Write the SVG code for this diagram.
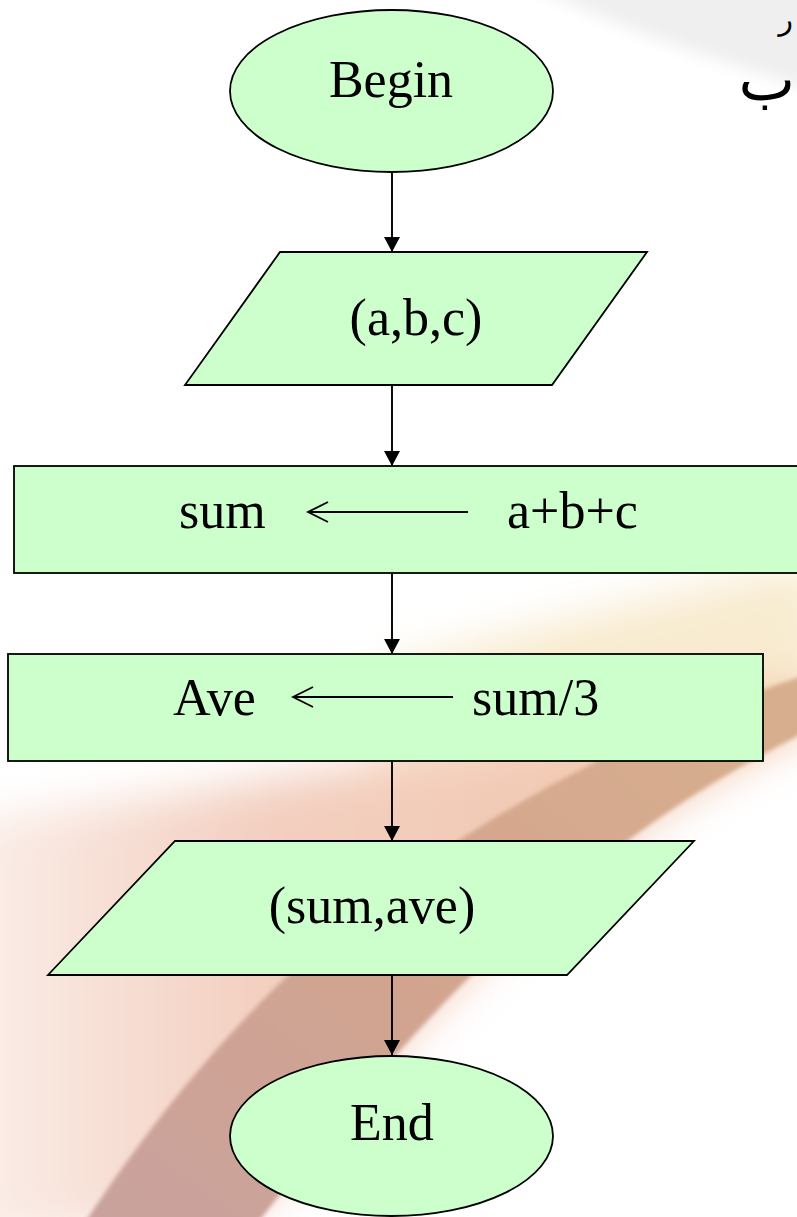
<svg xmlns="http://www.w3.org/2000/svg" width="797" height="1217" viewBox="0 0 797 1217">
<style>
.node{fill:#ccffcc;stroke:#000;stroke-width:1.8}
.lbl{font-family:"Liberation Serif","Times New Roman",serif;font-size:52px;fill:#000}
.conn{stroke:#000;stroke-width:1.9;fill:none}
.ar{font-family:"DejaVu Sans",sans-serif;fill:#000}
</style>
<defs>
<marker id="tri" viewBox="0 0 16 16" refX="15" refY="8" markerWidth="16" markerHeight="16" markerUnits="userSpaceOnUse" orient="auto">
<path d="M0,0 L15,8 L0,16 Z" fill="#000"/>
</marker>
<marker id="chev" viewBox="-2 -2 24 24" refX="20" refY="10" markerWidth="24" markerHeight="24" markerUnits="userSpaceOnUse" orient="auto">
<path d="M0,0 L20,10 L0,20" fill="none" stroke="#000" stroke-width="1.9"/>
</marker>
<filter id="b25" x="-30%" y="-30%" width="160%" height="160%"><feGaussianBlur stdDeviation="22"/></filter>
<filter id="b8" x="-30%" y="-30%" width="160%" height="160%"><feGaussianBlur stdDeviation="8"/></filter>
<filter id="b2" x="-10%" y="-10%" width="120%" height="120%"><feGaussianBlur stdDeviation="2"/></filter>
<linearGradient id="salmon" x1="0" y1="0" x2="1" y2="0">
<stop offset="0" stop-color="#fbefea"/>
<stop offset="0.35" stop-color="#f3cfc0"/>
<stop offset="1" stop-color="#f2c6aa"/>
</linearGradient>
<linearGradient id="band" x1="0" y1="1" x2="1" y2="0">
<stop offset="0" stop-color="#c9a29e"/>
<stop offset="0.5" stop-color="#d3a58e"/>
<stop offset="1" stop-color="#d8b08e"/>
</linearGradient>
</defs>
<g id="background">
<rect x="0" y="0" width="797" height="1217" fill="#ffffff"/>
<path d="M520 -20 L820 -20 L820 92 C720 62 620 30 520 -20 Z" fill="#efefef" filter="url(#b8)"/>
<path d="M380 670 C560 620 690 590 820 560 L820 720 C650 740 520 770 380 790 Z" fill="#f8ebcf" filter="url(#b25)"/>
<path d="M-40 820 C150 800 420 760 820 680 L797 735 C560 850 400 1040 252 1217 L-40 1240 Z" fill="url(#salmon)" filter="url(#b25)"/>
<path d="M80 1230 C230 1000 430 800 820 670 L820 725 C560 850 400 1040 252 1230 Z" fill="url(#band)" filter="url(#b2)"/>
</g>
<g id="arabic-fragments">
<text class="ar" x="793" y="30" font-size="30" text-anchor="end">ر</text>
<text class="ar" x="795" y="100" font-size="60" text-anchor="end">ب</text>
</g>
<g id="connectors">
<line class="conn" x1="392" y1="172" x2="392" y2="252" marker-end="url(#tri)"/>
<line class="conn" x1="392" y1="385" x2="392" y2="466" marker-end="url(#tri)"/>
<line class="conn" x1="392" y1="573" x2="392" y2="654" marker-end="url(#tri)"/>
<line class="conn" x1="392" y1="761" x2="392" y2="841" marker-end="url(#tri)"/>
<line class="conn" x1="392" y1="975" x2="392" y2="1055" marker-end="url(#tri)"/>
</g>
<g id="begin">
<ellipse class="node" cx="391.5" cy="91" rx="161.5" ry="81"/>
<text class="lbl" x="391" y="97" text-anchor="middle">Begin</text>
</g>
<g id="input">
<polygon class="node" points="280,252 647,252 552,385 185,385"/>
<text class="lbl" x="416" y="335" text-anchor="middle">(a,b,c)</text>
</g>
<g id="sum">
<rect class="node" x="14" y="466" width="800" height="107"/>
<text class="lbl" x="179" y="528">sum</text>
<line class="conn" x1="468" y1="512" x2="308" y2="512" marker-end="url(#chev)"/>
<text class="lbl" x="507" y="528">a+b+c</text>
</g>
<g id="ave">
<rect class="node" x="8" y="654" width="755" height="107"/>
<text class="lbl" x="173" y="715">Ave</text>
<line class="conn" x1="453" y1="697" x2="293" y2="697" marker-end="url(#chev)"/>
<text class="lbl" x="472" y="715">sum/3</text>
</g>
<g id="output">
<polygon class="node" points="175,841 694,841 567,975 48,975"/>
<text class="lbl" x="372" y="923" text-anchor="middle">(sum,ave)</text>
</g>
<g id="end">
<ellipse class="node" cx="391.5" cy="1136" rx="161.5" ry="80"/>
<text class="lbl" x="392" y="1140" text-anchor="middle">End</text>
</g>
</svg>
